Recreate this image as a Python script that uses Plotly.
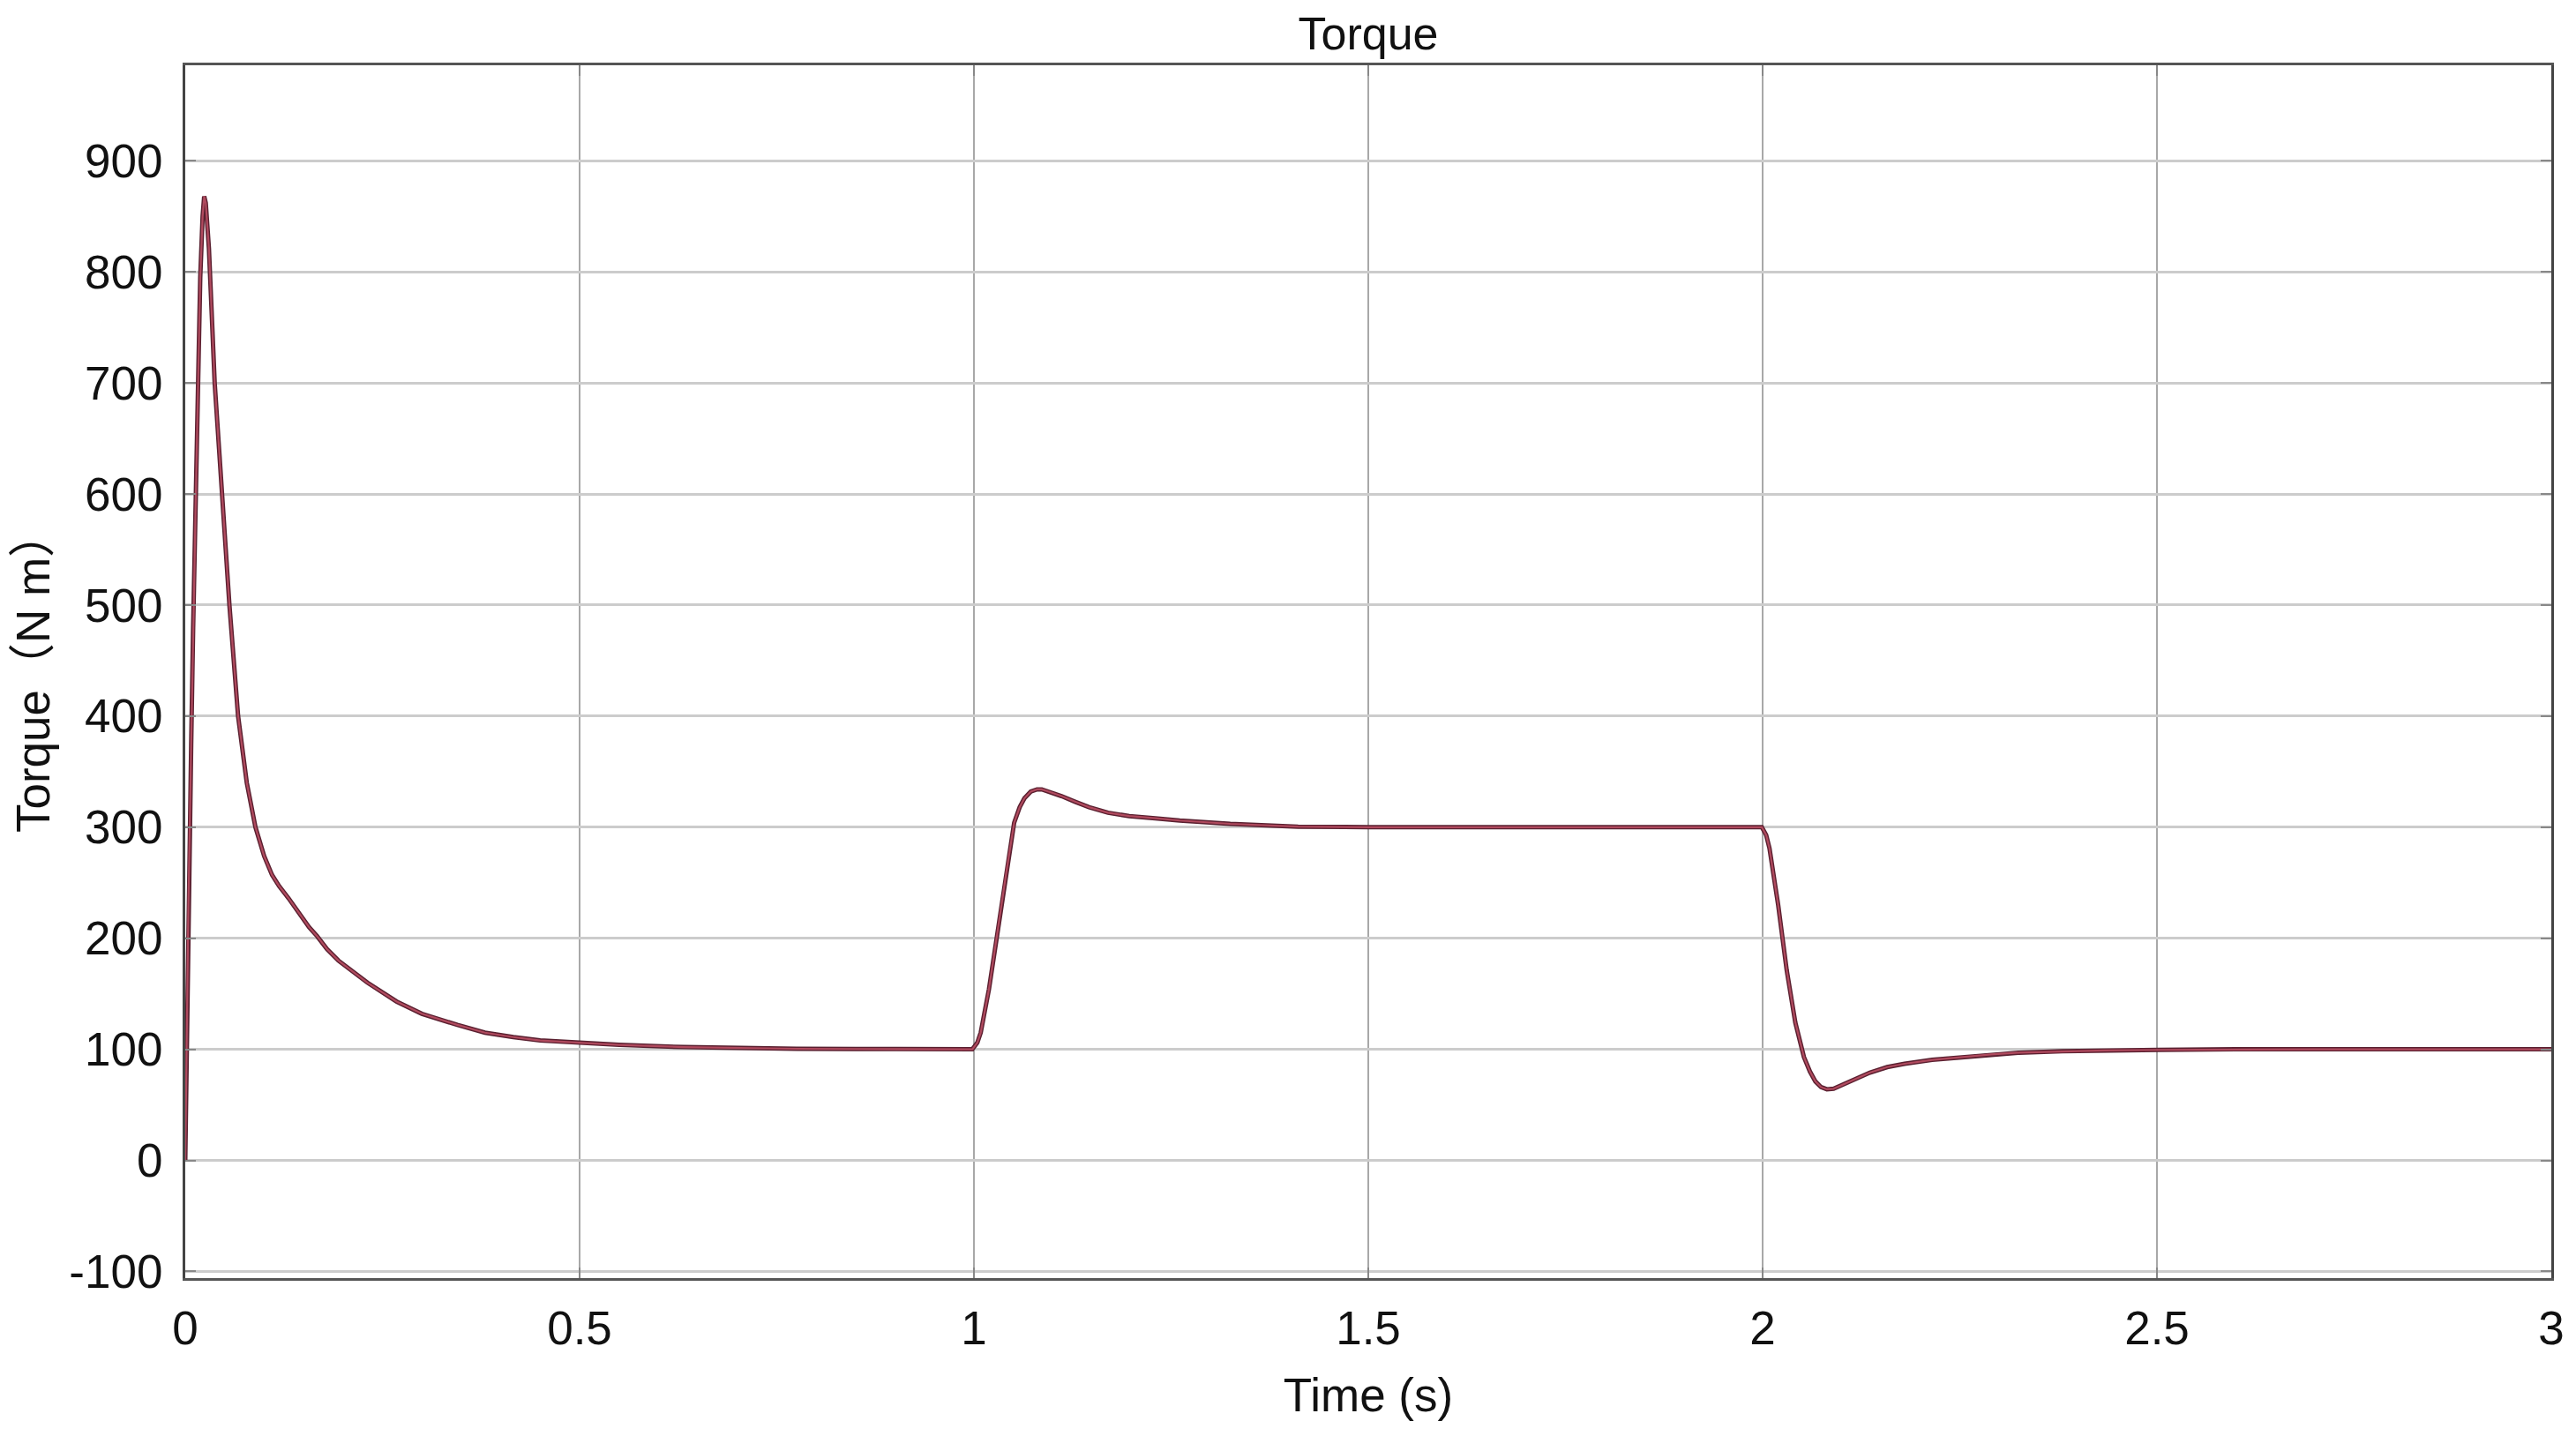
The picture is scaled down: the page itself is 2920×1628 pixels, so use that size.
import plotly.graph_objects as go

# Time (s) and torque (N m)
time_s = [0.0, 0.0008, 0.0015, 0.004, 0.0075, 0.010, 0.013, 0.016, 0.019, 0.022, 0.024,
          0.026, 0.030, 0.0373, 0.0466, 0.056, 0.067, 0.078, 0.089, 0.100, 0.110, 0.119,
          0.131, 0.145, 0.157, 0.167, 0.180, 0.194, 0.203, 0.231, 0.268, 0.300, 0.345,
          0.380, 0.416, 0.450, 0.500, 0.550, 0.632, 0.700, 0.775, 0.850, 0.920, 0.998,
          1.0043, 1.0086, 1.019, 1.030, 1.041, 1.051, 1.058, 1.064, 1.072, 1.080, 1.086,
          1.095, 1.111, 1.128, 1.146, 1.170, 1.197, 1.230, 1.261, 1.325, 1.411, 1.500,
          1.600, 1.700, 1.800, 1.900, 1.999,
          2.0045, 2.0087, 2.0197, 2.0306, 2.0415, 2.0524, 2.060, 2.067, 2.074, 2.0815,
          2.090, 2.0997, 2.118, 2.136, 2.158, 2.180, 2.215, 2.2525, 2.290, 2.325, 2.380,
          2.4345, 2.502, 2.600, 2.700, 2.800, 2.900, 3.000]
torque_nm = [0, 45, 90, 230, 374, 480, 584, 690, 795, 850, 868,
             862, 821, 700, 600, 500, 400, 340, 300, 274, 257, 247,
             236, 222, 210, 202, 190, 180, 175, 160, 143, 132, 122,
             115, 111, 108, 106, 104, 102, 101, 100.5, 100.3, 100.1, 100,
             106, 115, 154, 207, 259, 304, 318, 326, 332, 334, 334,
             332, 328, 323, 318, 313, 310, 308, 306, 303, 300.5, 300,
             300, 300, 300, 300, 300,
             293, 281, 230, 171, 124, 93, 80, 71, 66, 64,
             64.5, 67.5, 73, 79, 84, 87, 90.5, 93, 95.5, 97, 98.3,
             99, 99.5, 100, 100, 100, 100, 100]

x_ticks = [0, 0.5, 1, 1.5, 2, 2.5, 3]
x_tick_text = ["0", "0.5", "1", "1.5", "2", "2.5", "3"]
y_ticks = [-100, 0, 100, 200, 300, 400, 500, 600, 700, 800, 900]
y_tick_text = ["-100", "0", "100", "200", "300", "400", "500", "600", "700", "800", "900"]

FONT = "Liberation Sans, Arial, Noto Sans CJK SC, sans-serif"

fig = go.Figure()
fig.add_trace(go.Scatter(
    x=time_s, y=torque_nm, mode="lines",
    line=dict(color="#5a2030", width=5), showlegend=False, hoverinfo="skip"))
fig.add_trace(go.Scatter(
    x=time_s, y=torque_nm, mode="lines",
    line=dict(color="#b04a5e", width=2.2), showlegend=False))

fig.update_layout(
    width=2920, height=1628,
    margin=dict(l=202, r=36, t=66, b=187),
    paper_bgcolor="white", plot_bgcolor="white",
    font=dict(family=FONT, size=53, color="#111111"),
    title=dict(text="Torque", x=0.5, xref="paper", xanchor="center",
               y=1 - 30 / 1628, yref="container", yanchor="middle",
               font=dict(family=FONT, size=52, color="#111111")),
)
fig.update_xaxes(
    range=[0, 3], tickvals=x_ticks, ticktext=x_tick_text,
    showgrid=True, gridcolor="#a8a8a8", gridwidth=2,
    zeroline=False, showline=True, linecolor="#555555", linewidth=3, mirror="ticks",
    ticks="inside", ticklen=12, tickcolor="#888888", tickwidth=2,
    tickfont=dict(family=FONT, size=53, color="#111111"),
    ticklabelstandoff=8,
    title=dict(text="Time (s)", font=dict(family=FONT, size=53, color="#111111"), standoff=30),
)
fig.update_yaxes(
    range=[-106, 986], tickvals=y_ticks, ticktext=y_tick_text,
    showgrid=True, gridcolor="#cccccc", gridwidth=3,
    zeroline=False, showline=True, linecolor="#444444", linewidth=3, mirror="ticks",
    ticks="inside", ticklen=12, tickcolor="#888888", tickwidth=2,
    tickfont=dict(family=FONT, size=53, color="#111111"),
    ticklabelstandoff=12,
    title=dict(text="Torque（N m）", font=dict(family=FONT, size=53, color="#111111"), standoff=12),
)

fig.write_html("out.html")
